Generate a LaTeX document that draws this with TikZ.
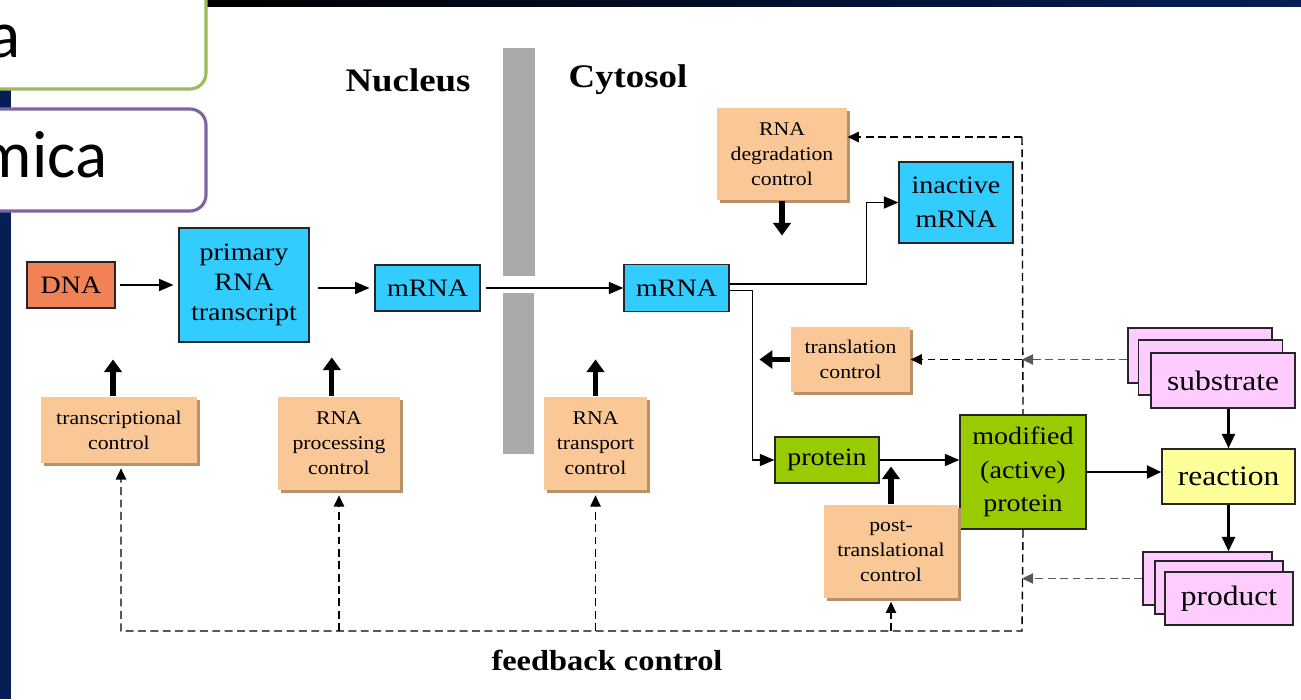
\documentclass[tikz,border=0pt]{standalone}
\usepackage{fontspec}
\setmainfont[FakeStretch=1.12]{Liberation Serif}
\newfontfamily\slidefont{Carlito}
\usetikzlibrary{arrows.meta,shadows}
\definecolor{rnablue}{RGB}{51,204,255}
\definecolor{dnaorange}{RGB}{240,130,85}
\definecolor{ctrltan}{RGB}{250,200,150}
\definecolor{ctrlshade}{RGB}{185,145,105}
\definecolor{protgreen}{RGB}{153,204,0}
\definecolor{reactyellow}{RGB}{255,255,153}
\definecolor{molpink}{RGB}{255,204,255}
\definecolor{membrane}{RGB}{170,170,170}
\definecolor{slideblue}{RGB}{5,30,85}
\definecolor{olivebox}{RGB}{155,187,89}
\definecolor{purplebox}{RGB}{128,100,162}

\begin{document}
\begin{tikzpicture}[x=0.125mm,y=-0.125mm,
  part/.style={draw=black!85,line width=0.5pt,inner sep=0pt,align=center,font=\fontsize{8.9}{12}\selectfont},
  mol/.style={part,fill=molpink,font=\fontsize{10}{12}\selectfont},
  ctrl/.style={fill=ctrltan,inner sep=0pt,align=center,font=\fontsize{6.9}{8.9}\selectfont,
    drop shadow={shadow xshift=0.35mm,shadow yshift=-0.35mm,fill=ctrlshade,opacity=1}},
  flow/.style={line width=0.55pt,-{Triangle[length=1.8mm,width=1.5mm]}},
  rxn/.style={line width=1pt,-{Triangle[length=1.8mm,width=1.6mm]}},
  push/.style={line width=1.8pt,-{Triangle[length=1.6mm,width=2.2mm]}},
  fbline/.style={line width=0.5pt,dash pattern=on 2.8pt off 1.6pt},
  fb/.style={fbline,-{Triangle[length=1.4mm,width=1.3mm]}}]
\clip (0,0) rectangle (1301,699);
\fill[white] (0,0) rectangle (1301,699);
% slide frame
\fill[slideblue] (0,0) rectangle (11,699);
\shade[left color=black,middle color=black,right color=slideblue] (207,0) rectangle (1301,7);
\draw[olivebox,line width=1.1pt,fill=white,rounded corners=2mm] (-40,-40) rectangle (206,89);
\draw[purplebox,line width=1.1pt,fill=white,rounded corners=2mm] (-40,109) rectangle (206,211);
\node[font=\slidefont\fontsize{23.8}{28}\selectfont,inner sep=0pt,anchor=base east] (taba) at (21,58) {a};
\node[font=\slidefont\fontsize{23.8}{28}\selectfont,inner sep=0pt,anchor=base east] (tabb) at (108,178) {mica};
% nuclear envelope with pore
\fill[membrane] (503,48) rectangle (535,276);
\fill[membrane] (503,293) rectangle (534,454);
\node[font=\bfseries\fontsize{11.7}{14}\selectfont] (nuc) at (408,80) {Nucleus};
\node[font=\bfseries\fontsize{11.7}{14}\selectfont] (cyt) at (628,80) {Cytosol};
\node[font=\bfseries\fontsize{10.3}{12}\selectfont] (fbc) at (607,660) {feedback control};
% main chain
\node[part,fill=dnaorange,minimum width=11mm,minimum height=5.75mm] (dna) at (71,285) {DNA};
\node[part,fill=rnablue,minimum width=16.25mm,minimum height=14.25mm,font=\fontsize{8.9}{10.7}\selectfont] (prim) at (244,285) {primary\\RNA\\transcript};
\node[part,fill=rnablue,minimum width=13.125mm,minimum height=5.75mm] (mrnaN) at (427.5,288) {mRNA};
\node[part,fill=rnablue,minimum width=13.125mm,minimum height=5.875mm] (mrnaC) at (676.5,288) {mRNA};
\node[part,fill=rnablue,minimum width=14.25mm,minimum height=10.125mm] (inact) at (956,202.5) {inactive\\mRNA};
\node[part,fill=protgreen,minimum width=13mm,minimum height=5.75mm] (prot) at (827,460) {protein};
\node[part,fill=protgreen,minimum width=15.75mm,minimum height=14.25mm] (modp) at (1023,472) {modified\\(active)\\protein};
\node[part,fill=reactyellow,minimum width=16.625mm,minimum height=6.875mm,font=\fontsize{10}{12}\selectfont] (react) at (1228.5,476.5) {reaction};
% substrate and product stacks
\node[mol,minimum width=18mm,minimum height=6.875mm] (subsC) at (1200,355.5) {};
\node[mol,minimum width=18mm,minimum height=6.875mm] (subsB) at (1210.5,367.5) {};
\node[mol,minimum width=18mm,minimum height=6.875mm] (subs) at (1223,380.5) {substrate};
\node[mol,minimum width=16.125mm,minimum height=6.625mm] (prodC) at (1207.5,578.5) {};
\node[mol,minimum width=16mm,minimum height=6.625mm] (prodB) at (1219,587.5) {};
\node[mol,minimum width=16mm,minimum height=6.625mm] (prod) at (1229,598.5) {product};
% control points
\node[ctrl,minimum width=19.5mm,minimum height=8.25mm] (tctrl) at (119,430) {transcriptional\\control};
\node[ctrl,minimum width=15.25mm,minimum height=11.625mm] (pctrl) at (339,443.5) {RNA\\processing\\control};
\node[ctrl,minimum width=12.875mm,minimum height=11.625mm] (xctrl) at (595.5,443.5) {RNA\\transport\\control};
\node[ctrl,minimum width=16.25mm,minimum height=11.5mm] (dctrl) at (782,154) {RNA\\degradation\\control};
\node[ctrl,minimum width=14.875mm,minimum height=8.125mm] (lctrl) at (850.5,359.5) {translation\\control};
\node[ctrl,minimum width=16.75mm,minimum height=11.625mm] (mctrl) at (891,551.5) {post-\\translational\\control};
% flow of information
\draw[flow,shorten <=0.5mm,shorten >=0.6mm] (dna) -- (prim);
\draw[flow,shorten <=1mm,shorten >=0.6mm] (prim.east |- mrnaN) -- (mrnaN);
\draw[flow,shorten <=0.6mm] (mrnaN) -- (mrnaC);
\draw[flow] ([yshift=0.5mm]mrnaC.east) -- ++(137,0) |- (inact.west);
\draw[flow] ([yshift=-0.3mm]mrnaC.east) -- ++(23,0) |- (prot.west);
\draw[flow] (prot.east) -- (prot.east -| modp.west);
\draw[rxn] (modp.east) -- (modp.east -| react.west);
\draw[rxn] (react.north |- subs.south) -- (react.north);
\draw[rxn] (react.south) -- (react.south |- prodC.north);
% regulation
\draw[push] ([xshift=-0.75mm]tctrl.north) -- ++(0,-37);
\draw[push] ([xshift=-0.9mm]pctrl.north) -- ++(0,-39);
\draw[push] (xctrl.north) -- ++(0,-37);
\draw[push] (dctrl.south) -- ++(0,35);
\draw[push] (lctrl.west) -- ++(-31,0);
\draw[push] (mctrl.north) -- ++(0,-38);
% feedback loop
\coordinate (fbtop) at (1022,137);
\coordinate (fbbot) at (1022,631);
\draw[fb] (fbtop) -- (dctrl.east |- fbtop);
\draw[fbline] (fbtop) -- (modp.north);
\draw[fb,shorten >=0.6mm] (modp.south) -- (fbbot) -| ([xshift=0.25mm]tctrl.south);
\draw[fb,shorten >=0.6mm] (fbbot -| pctrl) -- (pctrl.south);
\draw[fb,shorten >=0.6mm] (fbbot -| xctrl) -- (xctrl.south);
\draw[fb,shorten >=0.4mm] (fbbot -| mctrl) -- (mctrl.south);
\draw[fb,black!65] (subsC.west |- lctrl) -- (fbtop |- lctrl);
\draw[fb] (fbtop |- lctrl) -- (lctrl.east);
\draw[fb,black!65] (prodC.west) -- (prodC.west -| fbtop);
\end{tikzpicture}
\end{document}
